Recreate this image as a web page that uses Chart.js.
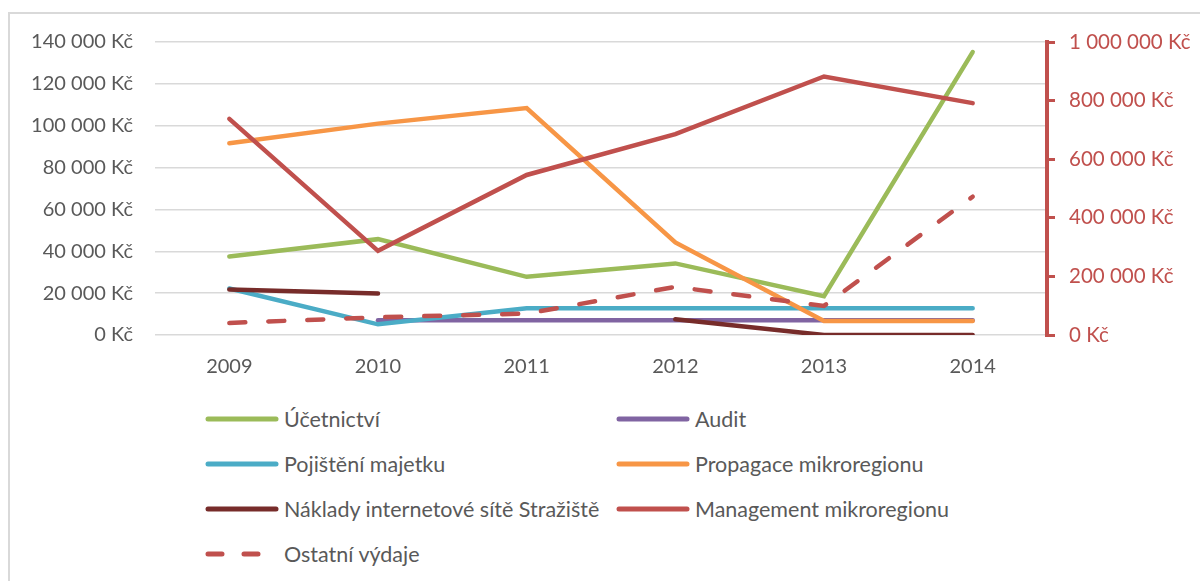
<!DOCTYPE html>
<html>
<head>
<meta charset="utf-8">
<script src="https://cdn.jsdelivr.net/npm/chart.js@4.4.1/dist/chart.umd.min.js"></script>
<style>
  body { margin: 0; background: #fff; font-family: Lato, "Open Sans", sans-serif; }
  #wrap { position: relative; width: 1200px; height: 581px; overflow: hidden; }
  #frame { position: absolute; left: 8px; top: 12px; width: 1300px; height: 700px;
           border-left: 2px solid #d9d9d9; border-top: 2px solid #d9d9d9; }
  #chartBox { position: absolute; left: 0; top: 0; width: 1200px; height: 390px; }
  #legend { position: absolute; left: 204px; top: 396px; display: grid;
            grid-template-columns: 411px 400px; }
  .item { display: flex; align-items: center; height: 45px; font-size: 21.5px;
          color: #595959; white-space: nowrap; }
  .item svg { margin-right: 4px; }
</style>
</head>
<body>
<div id="wrap">
  <div id="frame"></div>
  <div id="chartBox"><canvas id="costChart" width="1200" height="390"></canvas></div>
  <div id="legend"></div>
</div>
<script>
// roky
var years = ["2009", "2010", "2011", "2012", "2013", "2014"];

// levá osa (Kč)
var ucetnictvi = [37500, 45800, 27800, 34200, 18500, 135200];
var audit = [null, 7100, 7100, 7100, 7100, 7100];
var pojisteni = [22200, 5100, 12800, 12800, 12800, 12800];
var propagace = [91600, 101000, 108400, 44200, 6700, 6700];
var naklady = [21700, 19800, null, 7500, 0, 0];

// pravá osa (Kč)
var management = [737700, 287300, 546200, 685400, 882400, 791400];
var ostatni = [41000, 60500, 73200, 164200, 99200, 472000];

var leftTicks = [0, 20000, 40000, 60000, 80000, 100000, 120000, 140000];
var rightTicks = [0, 200000, 400000, 600000, 800000, 1000000];

function kc(v) {
  return String(v).replace(/\B(?=(\d{3})+(?!\d))/g, " ") + " Kč";
}

var series = [
  { label: "Účetnictví", data: ucetnictvi, color: "#9bbb59", axis: "y" },
  { label: "Audit", data: audit, color: "#8064a2", axis: "y" },
  { label: "Pojištění majetku", data: pojisteni, color: "#4bacc6", axis: "y" },
  { label: "Propagace mikroregionu", data: propagace, color: "#f79646", axis: "y" },
  { label: "Náklady internetové sítě Stražiště", data: naklady, color: "#772c2a", axis: "y" },
  { label: "Management mikroregionu", data: management, color: "#c0504d", axis: "y2" },
  { label: "Ostatní výdaje", data: ostatni, color: "#c0504d", axis: "y2", dash: [16, 23] }
];

var config = {
  type: "line",
  data: {
    labels: years,
    datasets: series.map(function (s, i) {
      return {
        label: s.label,
        data: s.data,
        borderColor: s.color,
        backgroundColor: s.color,
        borderWidth: 4.5,
        borderDash: s.dash || [],
        borderCapStyle: "round",
        pointRadius: 0,
        tension: 0,
        spanGaps: false,
        order: series.length - i, // pozdější řady navrch jako v Excelu
        yAxisID: s.axis
      };
    })
  },
  options: {
    responsive: false,
    animation: false,
    layout: { padding: { top: 42, left: 0, right: 0, bottom: 0 } },
    plugins: { legend: { display: false }, tooltip: { enabled: false } },
    scales: {
      x: {
        offset: true,
        grid: { display: false, offset: true },
        border: { display: false },
        ticks: { color: "#595959", font: { family: "Lato", size: 20 }, padding: 12 },
        afterFit: function (scale) { scale.height = 55; }
      },
      y: {
        position: "left",
        min: 0, max: 140000,
        afterBuildTicks: function (scale) {
          scale.ticks = leftTicks.map(function (v) { return { value: v }; });
        },
        grid: { color: "#d9d9d9", lineWidth: 1.5, drawTicks: false },
        border: { display: false },
        ticks: { color: "#595959", font: { family: "Lato", size: 20 }, padding: 22,
                 callback: function (v) { return kc(v); } },
        afterFit: function (scale) { scale.width = 155; }
      },
      y2: {
        position: "right",
        min: 0, max: 1000000,
        afterBuildTicks: function (scale) {
          scale.ticks = rightTicks.map(function (v) { return { value: v }; });
        },
        grid: { drawOnChartArea: false, color: "#c0504d", lineWidth: 3, tickLength: 8 },
        border: { display: true, color: "#c0504d", width: 4 },
        ticks: { color: "#c0504d", font: { family: "Lato", size: 20.5 }, padding: 14,
                 callback: function (v) { return kc(v); } },
        afterFit: function (scale) { scale.width = 153; }
      }
    }
  }
};

var ctx = document.getElementById("costChart").getContext("2d");
window.costChart = new Chart(ctx, config);

// legenda ve dvou sloupcích
var legend = document.getElementById("legend");
series.forEach(function (s) {
  var item = document.createElement("div");
  item.className = "item";
  var dash = s.dash ? ' stroke-dasharray="14 22"' : "";
  item.innerHTML = '<svg width="76" height="10"><line x1="4" y1="5" x2="72" y2="5" stroke="' +
    s.color + '" stroke-width="5" stroke-linecap="round"' + dash + '/></svg>';
  var txt = document.createElement("span");
  txt.textContent = s.label;
  item.appendChild(txt);
  legend.appendChild(item);
});
</script>
</body>
</html>
